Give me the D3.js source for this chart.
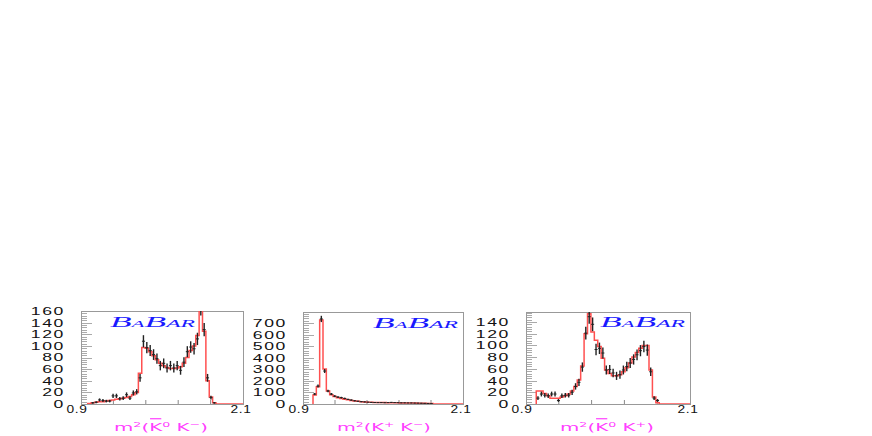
<!DOCTYPE html>
<html>
<head>
<meta charset="utf-8">
<script src="https://cdn.jsdelivr.net/npm/d3@7"></script>
<style>
body { margin: 0; background: #fff; }
svg { display: block; }
</style>
</head>
<body>
<svg id="chart" width="872" height="436"></svg>
<script>
// histogram binning: 48 bins of 0.025 GeV^2 from 0.9 to 2.1
const xDomain = [0.9, 2.1];
const binWidth = 0.025;
const xTickLabels = ["0.9", "2.1"];

// m2(K0bar K-)
const kbarKmCounts = [0,0,0,2,3,7,6,5,5,14,14,9,10,16,10,19,21,45,108,97,92,85,78,66,70,62,66,62,66,58,72,90,98,95,112,165,128,45,11,2,0,0,0,0,0,0,0,0];
const kbarKmFit    = [0,0,1,2,3,4,4,5,6,7,8,9,10,11,13,16,20,53,97,96,90,83,76,70,66,63,61,61,62,64,70,80,92,100,118,175,125,40,12,2,0,0,0,0,0,0,0,0];
const kbarKmTicks  = [0,20,40,60,80,100,120,140,160];

// m2(K+ K-)
const kpKmCounts = [0,0,0,86,155,735,285,112,86,68,60,55,48,40,34,28,24,20,18,16,14,13,12,12,11,12,14,12,11,10,10,9,9,8,8,7,6,5,3,0,0,0,0,0,0,0,0,0];
const kpKmFit    = [0,0,0,78,150,725,302,112,80,65,55,48,42,36,31,27,23,20,18,16,15,14,13,12,12,11,11,10,10,9,9,9,8,8,7,7,6,5,4,0,0,0,0,0,0,0,0,0];
const kpKmTicks  = [0,100,200,300,400,500,600,700];

// m2(K0bar K+)
const kbarKpCounts = [0,0,0,10,17,15,14,17,17,6,14,15,15,20,30,37,63,121,149,136,93,95,87,58,59,53,48,50,58,64,70,76,84,91,98,92,55,10,6,0,0,0,0,0,0,0,0,0];
const kbarKpFit    = [0,0,0,22,22,18,14,10,10,10,12,14,17,22,30,41,65,120,154,123,109,98,78,58,52,48,48,50,55,62,70,80,88,95,100,100,58,12,2,0,0,0,0,0,0,0,0,0];
const kbarKpTicks  = [0,20,40,60,80,100,120,140];

// axis titles split in pieces: sup = superscript, bar = overline
const kbarKmTitle = [{t: "m"}, {t: "2", sup: true}, {t: "("}, {t: "K", bar: true}, {t: "0", sup: true}, {t: " K"}, {t: "\u2212", sup: true}, {t: ")"}];
const kpKmTitle   = [{t: "m"}, {t: "2", sup: true}, {t: "("}, {t: "K"}, {t: "+", sup: true}, {t: " K"}, {t: "\u2212", sup: true}, {t: ")"}];
const kbarKpTitle = [{t: "m"}, {t: "2", sup: true}, {t: "("}, {t: "K", bar: true}, {t: "0", sup: true}, {t: " K"}, {t: "+", sup: true}, {t: ")"}];

const panels = [
    { counts: kbarKmCounts, fit: kbarKmFit, ticks: kbarKmTicks, yMax: 160, title: kbarKmTitle,
      left: 81, right: 243, top: 311, bottom: 404, logoX: 110, logoY: 327, titleX: 161 },
    { counts: kpKmCounts, fit: kpKmFit, ticks: kpKmTicks, yMax: 795, title: kpKmTitle,
      left: 303, right: 463, top: 312, bottom: 404, logoX: 373, logoY: 328, titleX: 384 },
    { counts: kbarKpCounts, fit: kbarKpFit, ticks: kbarKpTicks, yMax: 157, title: kbarKpTitle,
      left: 526, right: 690, top: 312, bottom: 404, logoX: 600, logoY: 327, titleX: 607 }
];

const svg = d3.select("#chart");

panels.forEach((p, k) => {
    const x = d3.scaleLinear().domain(xDomain).range([p.left, p.right]);
    const y = d3.scaleLinear().domain([0, p.yMax]).range([p.bottom, p.top]);
    const g = svg.append("g");

    g.append("clipPath").attr("id", "clip" + k)
        .append("rect")
        .attr("x", p.left).attr("y", p.top)
        .attr("width", p.right - p.left).attr("height", p.bottom - p.top);

    // y ticks: majors at labels, 4 minors between
    const step = p.ticks[1] - p.ticks[0];
    const minor = d3.range(0, p.yMax, step / 5);
    g.selectAll(".minor")
        .data(minor)
        .enter()
        .append("line")
        .attr("x1", p.left).attr("x2", (d, i) => p.left + (i % 5 === 0 ? 11 : 6))
        .attr("y1", d => Math.round(y(d)) + 0.5).attr("y2", d => Math.round(y(d)) + 0.5)
        .attr("stroke", "#aaa")
        .attr("stroke-width", 1);

    // x ticks, 5 divisions
    g.selectAll(".xtick")
        .data(d3.range(1, 5))
        .enter()
        .append("line")
        .attr("x1", d => p.left + d * (p.right - p.left) / 5)
        .attr("x2", d => p.left + d * (p.right - p.left) / 5)
        .attr("y1", p.bottom).attr("y2", p.bottom - 4)
        .attr("stroke", "#888");

    // frame
    g.append("rect")
        .attr("x", p.left + 0.5).attr("y", p.top + 0.5)
        .attr("width", p.right - p.left).attr("height", p.bottom - p.top)
        .attr("fill", "none")
        .attr("stroke", "#999");

    // y labels (stretched like the original font)
    g.selectAll(".ylab")
        .data(p.ticks)
        .enter()
        .append("text")
        .attr("transform", d => `translate(${p.left - 16},${y(d)}) scale(1.6,1)`)
        .attr("dy", "0.36em")
        .attr("text-anchor", "end")
        .style("font-family", "Liberation Sans, Arial, sans-serif")
        .style("font-size", "11px")
        .style("letter-spacing", "1px")
        .attr("fill", "#111")
        .text(d => d);

    // x labels
    g.selectAll(".xlab")
        .data(xTickLabels)
        .enter()
        .append("text")
        .attr("transform", (d, i) => `translate(${i === 0 ? x(+d) - 4 : x(+d) - 2},${p.bottom + 5}) scale(1.25,1)`)
        .attr("dy", "0.36em")
        .attr("text-anchor", "middle")
        .style("font-family", "Liberation Sans, Arial, sans-serif")
        .style("font-size", "11px")
        .style("letter-spacing", "0.5px")
        .attr("fill", "#111")
        .text(d => d);

    const plot = g.append("g").attr("clip-path", `url(#clip${k})`);

    // fit: red step histogram
    const start = p.fit.findIndex(v => v > 0);
    const pts = [[xDomain[0] + start * binWidth, 0]];
    for (let i = start; i < p.fit.length; i++) {
        pts.push([xDomain[0] + i * binWidth, p.fit[i]]);
    }
    pts.push([xDomain[1], p.fit[p.fit.length - 1]]);

    const stepLine = d3.line()
        .curve(d3.curveStepAfter)
        .x(d => x(d[0]))
        .y(d => y(d[1]));

    plot.append("path")
        .attr("d", stepLine(pts))
        .attr("fill", "none")
        .attr("stroke", "#ff5050")
        .attr("stroke-width", 1.5);

    // data points with sqrt(N) errors
    const bins = p.counts
        .map((c, i) => ({ c: c, m: xDomain[0] + (i + 0.5) * binWidth }))
        .filter(d => d.c > 0);

    plot.selectAll(".err")
        .data(bins)
        .enter()
        .append("line")
        .attr("x1", d => x(d.m)).attr("x2", d => x(d.m))
        .attr("y1", d => y(d.c - Math.sqrt(d.c)))
        .attr("y2", d => y(d.c + Math.sqrt(d.c)))
        .attr("stroke", "#222")
        .attr("stroke-width", 1.4);

    plot.selectAll(".bar")
        .data(bins)
        .enter()
        .append("line")
        .attr("x1", d => x(d.m) - 1.5).attr("x2", d => x(d.m) + 1.5)
        .attr("y1", d => y(d.c)).attr("y2", d => y(d.c))
        .attr("stroke", "#222")
        .attr("stroke-width", 1);

    // BABAR logo
    const logo = g.append("text")
        .attr("x", p.logoX).attr("y", p.logoY)
        .attr("textLength", 85)
        .attr("lengthAdjust", "spacingAndGlyphs")
        .style("font-family", "Liberation Serif, Times New Roman, serif")
        .style("font-style", "italic")
        .attr("fill", "#1a1aff");
    [["B", 15], ["A", 9], ["B", 15], ["AR", 10]].forEach(s => {
        logo.append("tspan").style("font-size", s[1] + "px").text(s[0]);
    });

    // axis title, magenta
    const tg = g.append("g");
    const title = tg.append("text")
        .attr("text-anchor", "start")
        .style("font-family", "DejaVu Sans, sans-serif")
        .style("font-size", "11px")
        .attr("fill", "#ff40ff");
    let shifted = false;
    let barIndex = -1, pos = 0;
    p.title.forEach(part => {
        const ts = title.append("tspan").text(part.t);
        if (part.sup) {
            ts.attr("dy", -4).style("font-size", "7px");
            shifted = true;
        } else if (shifted) {
            ts.attr("dy", 4);
            shifted = false;
        }
        if (part.bar) barIndex = pos;
        pos += part.t.length;
    });
    const node = title.node();
    const w = node.getComputedTextLength();
    const sx = 94 / w;
    tg.attr("transform", `translate(${p.titleX - 47},431) scale(${sx},1)`);
    if (barIndex >= 0) {
        const ext = node.getExtentOfChar(barIndex);
        tg.append("line")
            .attr("x1", ext.x + 0.5).attr("x2", ext.x + ext.width - 0.5)
            .attr("y1", ext.y - 2).attr("y2", ext.y - 2)
            .attr("stroke", "#ff40ff")
            .attr("stroke-width", 1.2);
    }
});
</script>
</body>
</html>
